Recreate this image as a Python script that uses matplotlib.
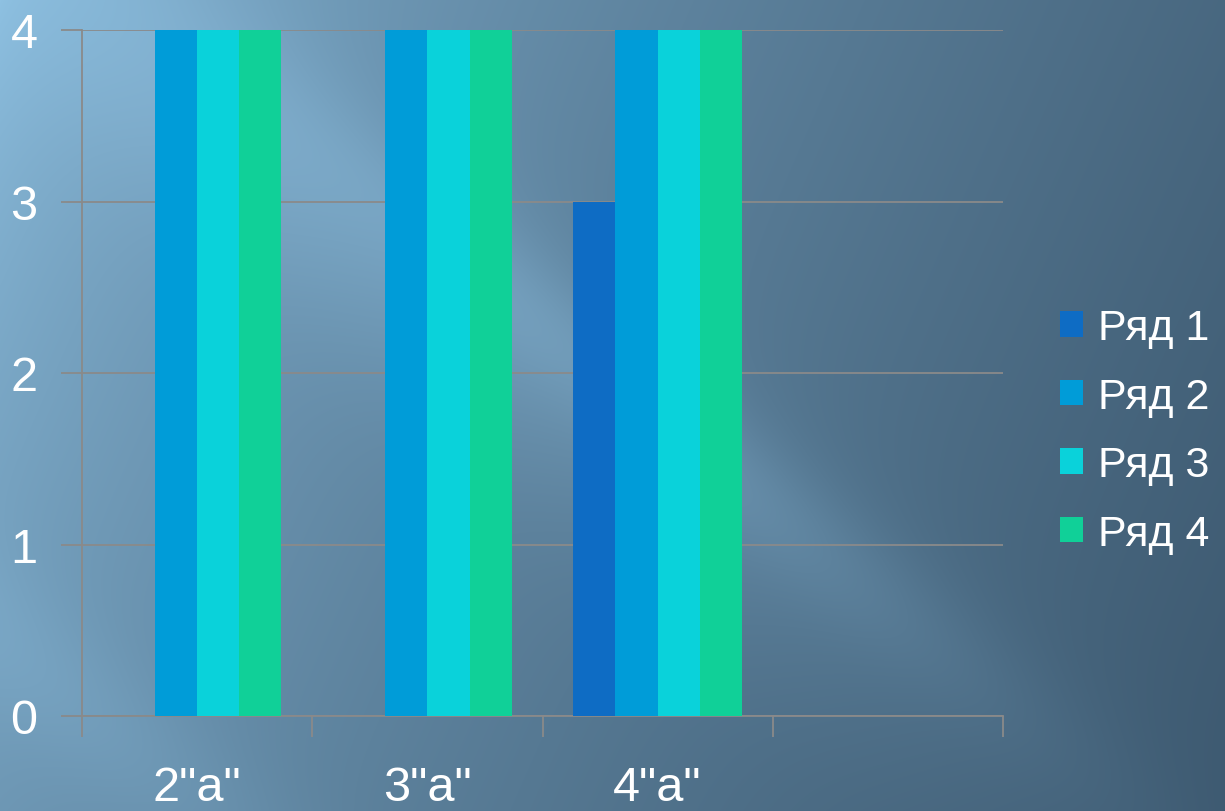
import numpy as np
import matplotlib.pyplot as plt

categories = ['2"а"', '3"а"', '4"а"', '']
series_names = ["Ряд 1", "Ряд 2", "Ряд 3", "Ряд 4"]
ryad1 = [0, 0, 3]
ryad2 = [4, 4, 4]
ryad3 = [4, 4, 4]
ryad4 = [4, 4, 4]
colors = ["#0e6cc4", "#009cd8", "#0ad2da", "#10d098"]

plt.rcParams['font.family'] = ['Liberation Sans', 'DejaVu Sans']

W, H = 1225, 812
fig = plt.figure(figsize=(W / 100, H / 100), dpi=100)

# background: dark slate gradient with light diagonal streaks
yy, xx = np.mgrid[0:H, 0:W].astype(float)
u = np.clip((0.8 * xx + 0.35 * yy) / (0.8 * W + 0.35 * H), 0, 1)
t = u ** 0.6
w = yy - 0.8 * xx
glow = 0.35 * np.exp(-((w + 60) / 140) ** 2) * np.exp(-(xx / 700) ** 2)
glow += 0.18 * np.exp(-((w + 110) / 70) ** 2) * np.exp(-((xx - 600) / 350) ** 2)
glow += 0.20 * np.exp(-((w - 640) / 90) ** 2) * np.exp(-(xx / 300) ** 2)
light = np.array([0.56, 0.76, 0.89])
dark = np.array([0.24, 0.35, 0.44])
img = light * (1 - t[..., None]) + dark * t[..., None]
img = img + glow[..., None] * (light - img) * 1.2
img = np.clip(img, 0, 1)
bg = fig.add_axes([0, 0, 1, 1], zorder=0)
bg.imshow(img, aspect='auto', interpolation='bilinear')
bg.axis('off')

ax = fig.add_axes([82 / W, 1 - 717 / H, (1003 - 82) / W, (717 - 31) / H], zorder=1)
ax.patch.set_alpha(0)

x = np.arange(len(ryad1))
bw = 0.183
data = [ryad1, ryad2, ryad3, ryad4]
for i, (vals, name, c) in enumerate(zip(data, series_names, colors)):
    ax.bar(x + (i - 1.5) * bw, vals, width=bw, color=c, label=name, zorder=3)

gc = "#8a8a8a"
ax.set_xlim(-0.5, len(categories) - 0.5)
ax.set_ylim(0, 4)
ax.set_yticks([0, 1, 2, 3, 4])
ax.yaxis.grid(True, color=gc, linewidth=1.3, zorder=0)
ax.set_xticks(np.arange(len(categories) + 1) - 0.5)
ax.set_xticklabels([])
ax.set_xticks(np.arange(len(categories)), minor=True)
ax.set_xticklabels(categories, minor=True)
ax.tick_params(axis='x', which='major', length=15, width=1.3, color=gc, direction='out')
ax.tick_params(axis='x', which='minor', length=0, pad=35, labelsize=35, labelcolor='white')
ax.tick_params(axis='y', length=15, width=1.3, color=gc, pad=17, labelsize=35, labelcolor='white')
for s in ['top', 'right']:
    ax.spines[s].set_visible(False)
for s in ['left', 'bottom']:
    ax.spines[s].set_color(gc)
    ax.spines[s].set_linewidth(1.3)

leg = fig.legend(loc='center left', bbox_to_anchor=(1060 / W, 1 - 432 / H), frameon=False,
                 fontsize=31, labelcolor='white', handlelength=0.54, handleheight=0.54,
                 handletextpad=0.34, labelspacing=0.66, borderpad=0, borderaxespad=0)

fig.savefig("out.png", dpi=100)
